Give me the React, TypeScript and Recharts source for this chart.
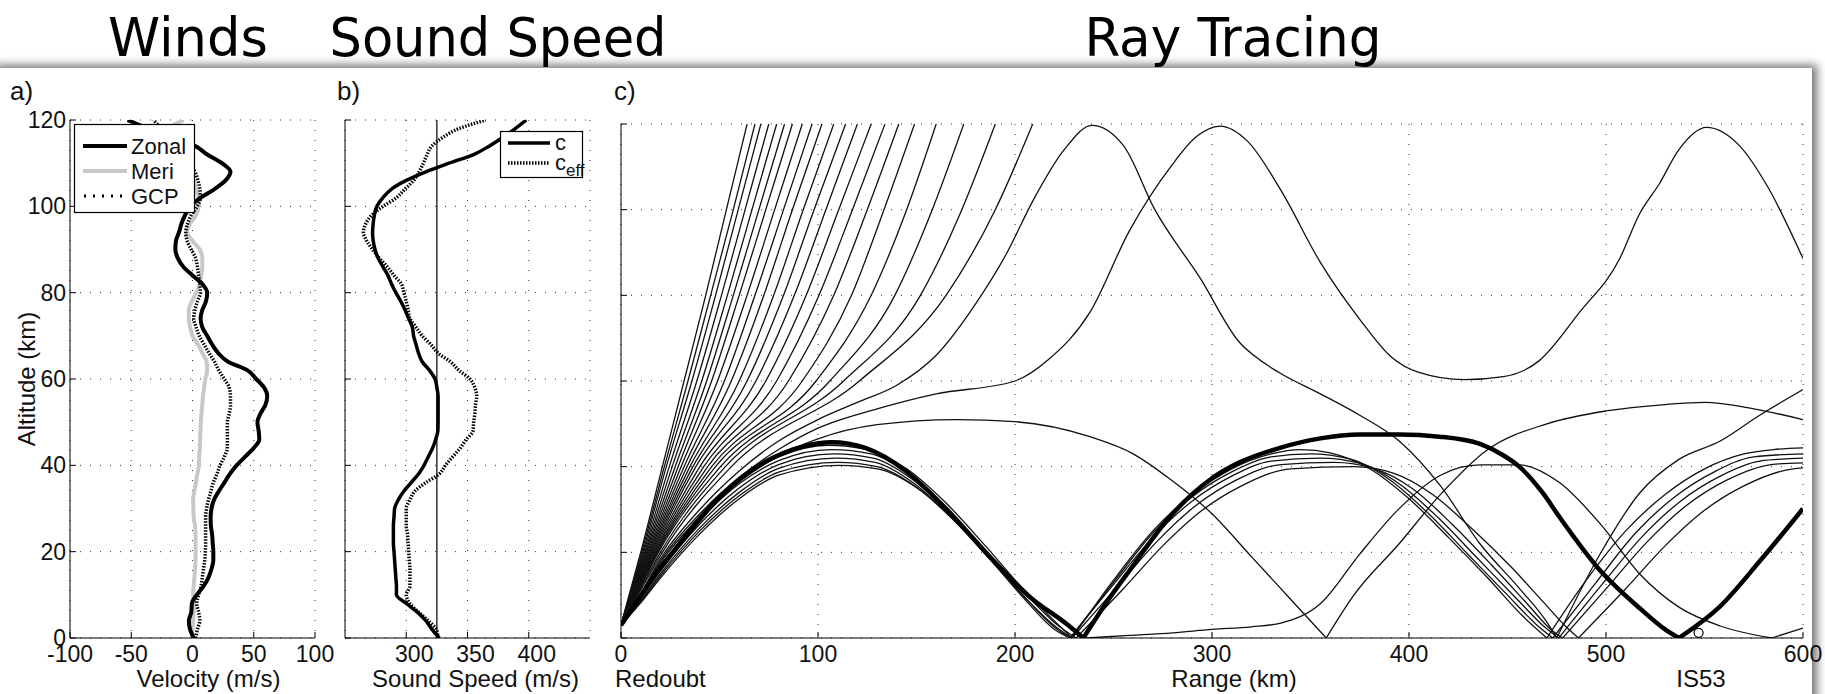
import React from 'react';
import {
  ComposedChart, Line, XAxis, YAxis, CartesianGrid, ReferenceLine, ReferenceDot,
} from 'recharts';

const FONT = "'Liberation Sans', Arial, Helvetica, sans-serif";
const TITLE_FONT = "'DejaVu Sans Condensed', 'Liberation Sans Narrow', 'DejaVu Sans', sans-serif";

// altitude grid shared by the profiles of panels a) and b)
const altitudeKm = [
  0, 2, 4, 6, 8, 10, 12, 14, 16, 18, 20, 22, 24, 26, 28, 30, 32, 34, 36, 38, 40,
  42, 44, 46, 48, 50, 52, 54, 56, 58, 60, 62, 64, 66, 68, 70, 72, 74, 76, 78, 80,
  82, 84, 86, 88, 90, 92, 94, 96, 98, 100, 102, 104, 106, 108, 110, 112, 114, 116, 118, 120,
];

// a) winds (m/s)
const zonalWind = [
  1, -2, -3, -1, -0.5, 3.5, 9, 13, 15.5, 17, 17, 16.5, 16, 15, 14.8, 15.5, 17.5, 21.5, 26, 30.5, 36,
  43, 50, 54.5, 54, 53, 55.5, 59.5, 61, 58.5, 52, 45, 29, 21, 16, 12, 8, 6.6, 8, 11, 12,
  8, 0, -7.5, -12, -14, -13.5, -11, -9, -6, -1.5, 6.6, 18, 27, 31, 24, 12, 2, -17, -36, -53,
];
const meriWind = [
  -0.3, 0, 0.5, 1, 1, 0.5, 1, 1.6, 2, 2.5, 2.5, 2.5, 2.5, 2, 1, 0.7, 0.5, 1.5, 2.7, 4, 5.2,
  5.5, 6, 6.2, 6.5, 6.8, 7.3, 8, 8.5, 9.5, 10.5, 12, 11.5, 8, 4.5, 0, -2, -3, -3, -0.5, 3,
  6, 7, 8, 8, 6, 0, -4.4, -2, 3, 5, 5, 3, 1, -1, -3, -6, -10, -15, -18, -7,
];
const gcpWind = [
  2.5, 4, 6, 5, 3.5, 5, 7, 8, 9, 10, 10.5, 10.7, 10.7, 10.7, 10.7, 11.5, 13, 15, 17, 20, 22.5,
  26, 28.4, 28.5, 28.4, 28.5, 30, 31, 31, 30, 26, 21.5, 18, 13.5, 9.5, 5.5, 3, 1, 2, 4, 6.5,
  6, 5, 4, 2.5, -1, -4.4, -5.5, -4, -1, 3.8, 6.5, 6, 4.5, 2, -2, -7, -12, -18, -25, -32,
];

// b) sound speed (m/s)
const soundSpeed = [
  327, 321, 316, 309, 300, 292, 292, 291.5, 291, 290.5, 290, 289.5, 289.5, 289.5, 290, 290.5, 293.5, 298, 304, 310, 314.5,
  318, 321.5, 324, 325.8, 326, 326, 326, 326, 325, 323.5, 319, 313, 310, 308, 306, 305, 302, 299, 295.5, 291.5,
  288, 285, 281, 277, 274.5, 273, 272.5, 273, 274, 276, 281, 288, 300, 316, 335, 355, 368, 379, 389, 398,
];
const effSoundSpeed = [
  326, 324.5, 318, 310, 303, 300, 303, 303, 303, 302.5, 302, 301.5, 301, 300, 300, 300, 303, 307, 316, 327, 332,
  338, 344, 349, 354.5, 355, 356, 356.5, 357.5, 356, 352, 343, 336, 326, 320, 313, 308, 303, 301.5, 300, 298,
  296, 290, 284.5, 278, 272.5, 267.7, 265, 267, 272, 281, 292, 299, 306, 310.5, 314, 317, 321, 330, 343, 365,
];
const groundSoundSpeed = 325;

// c) ray paths, [range km, altitude km]
// escaping rays: range at each of these altitudes
const escapeAltitudes = [3, 10, 20, 40, 60, 80, 100, 120];
const escapeRanges = [
  [0, 4.1, 10, 21, 32, 43, 53.5, 64],
  [0, 4.3, 10.5, 22, 34, 45.5, 57, 68],
  [0, 4.5, 11, 23, 36, 48, 59.5, 71],
  [0, 4.7, 11.5, 24.5, 38.5, 51, 63, 75],
  [0, 4.9, 12, 26, 41, 54, 66.5, 79],
  [0, 5.1, 12.5, 27.5, 43.5, 57, 70, 83],
  [0, 5.3, 13, 29, 46, 60, 73.5, 87],
  [0, 5.5, 13.5, 30.5, 49, 64, 78, 92],
  [0, 5.7, 14, 32, 52.5, 68, 82.5, 97],
  [0, 5.9, 14.5, 33.5, 56, 72.5, 87, 102],
  [0, 6.2, 15, 35, 60, 77.5, 92.5, 108],
  [0, 6.4, 15.5, 36.5, 64, 82.5, 98, 114],
  [0, 6.6, 16, 38, 68.5, 88, 104, 120],
  [0, 6.8, 16.5, 40, 73.5, 94, 110.5, 127],
  [0, 7.0, 17, 42, 79, 100.5, 117.5, 134],
  [0, 7.2, 17.5, 44, 85, 108, 125, 141],
  [0, 7.4, 18, 46, 92, 117, 133.5, 149],
  [0, 7.6, 18.5, 48, 99, 127, 145, 160],
  [0, 7.8, 19, 50.5, 106, 139, 158, 174],
  [0, 8.2, 20, 53, 113, 152, 173, 190],
  [0, 8.6, 21, 56, 121, 165, 190, 209],
];

// thermospheric / stratospheric returns, each list is one hop
const thinHops = [
  [[0, 3], [8, 8.7], [20, 18.5], [40, 30], [60, 39], [80, 46], [100, 51], [120, 55], [140, 59], [160, 66], [180, 78], [196, 90], [209, 102], [225, 114], [239, 119.7], [255, 115], [271, 100], [294, 84], [314, 69], [324, 65], [334, 62], [355, 57], [375, 52], [395, 46], [416, 35.5], [436, 22], [456, 11.6], [470, 3.7], [475, 0]],
  [[475, 0], [497, 19.6], [517, 33.8], [537, 41.7], [558, 46], [578, 52], [600, 58]],
  [[0, 3], [8, 8.6], [20, 18], [40, 29], [60, 37.5], [80, 44], [100, 49], [130, 53.5], [160, 57], [200, 60], [217, 65], [238, 76], [258, 95], [279, 110], [292, 117], [304, 119.5], [318, 116], [335, 104.5], [355, 87.7], [375, 74.4], [391, 65.6], [405, 62], [428, 60.3], [448, 61], [466, 64.7], [486.5, 76], [507, 88.6], [517, 99], [527, 106], [537, 114], [551, 119.2], [567.6, 115], [582, 105.4], [600, 88.6]],
  [[0, 3], [8, 8.5], [20, 17.5], [40, 28.3], [60, 36.5], [80, 42.5], [100, 46.5], [130, 49.8], [170, 51], [200, 50.5], [238, 47], [260, 43], [279, 37], [300, 29], [320, 19], [340, 9], [358, 0]],
  [[358, 0], [372, 10], [395, 22], [415, 33], [440, 44], [470, 50], [500, 53], [530, 54.5], [550, 55], [575, 53.5], [600, 51]],
  [[0, 3], [10, 9.8], [20, 16.5], [40, 28.5], [60, 37], [80, 42.3], [105, 45], [125, 44], [145, 39.5], [165, 31.5], [185, 21.5], [205, 11], [220, 4], [229, 0]],
  [[229, 0], [250, 13.5], [270, 25], [290, 33.5], [310, 39.5], [330, 43], [345, 44], [360, 43.2], [380, 39.5], [400, 32.5], [420, 23.5], [440, 14], [458, 5], [470, 0]],
  [[470, 0], [490, 13.5], [510, 25], [530, 33.5], [550, 39.5], [570, 43], [585, 44], [600, 44.4]],
  [[0, 3], [10, 9.5], [20, 16.2], [40, 27.5], [60, 36], [80, 41.4], [107, 44], [127, 43], [147, 38], [167, 29.5], [187, 19], [205, 9.5], [220, 2.5], [228, 0]],
  [[228, 0], [250, 13], [270, 24.5], [290, 33], [310, 38.8], [330, 42.3], [350, 43], [370, 41.8], [390, 37], [410, 29], [430, 19.5], [450, 10], [465, 3], [473, 0]],
  [[473, 0], [495, 13], [515, 24.5], [535, 33], [555, 38.8], [575, 42.3], [600, 43]],
  [[0, 3], [10, 9.2], [20, 15.6], [40, 26.6], [60, 35], [80, 40.5], [108, 43], [128, 42], [148, 37], [168, 28.5], [188, 18], [206, 8.5], [220, 2], [228, 0]],
  [[228, 0], [250, 12.5], [270, 23.5], [290, 32], [310, 37.8], [330, 41.3], [355, 42], [375, 40.8], [395, 36], [415, 28], [435, 18.5], [455, 9], [469, 2.5], [476, 0]],
  [[476, 0], [498, 12.5], [518, 23.5], [538, 32], [558, 37.8], [578, 41.3], [600, 42]],
  [[0, 3], [10, 8.8], [20, 15], [40, 25.7], [60, 34], [80, 39.6], [109, 42], [129, 41], [149, 36], [169, 27.5], [189, 17.5], [207, 8.5], [221, 2.5], [229, 0]],
  [[229, 0], [252, 12], [272, 22.5], [292, 31], [312, 36.8], [335, 40.5], [362, 41], [382, 39.6], [402, 34.8], [422, 26.5], [442, 17], [460, 8], [472, 2], [478, 0]],
  [[478, 0], [501, 12], [521, 22.5], [541, 31], [561, 36.8], [584, 40.5], [600, 40.9]],
  [[0, 3], [10, 8.5], [20, 14.5], [40, 25], [60, 33.2], [80, 38.7], [110, 41], [130, 40], [150, 35.2], [170, 27], [190, 17.5], [208, 9], [223, 2.5], [231, 0]],
  [[231, 0], [255, 11.5], [275, 21.5], [295, 29.8], [315, 35.5], [340, 39.5], [372, 40], [392, 38.5], [412, 33.5], [432, 25.5], [452, 16.5], [468, 8.5], [480, 2.5], [486, 0]],
  [[486, 0], [510, 11.5], [530, 21.5], [550, 29.8], [570, 35.5], [595, 39.5], [600, 39.7]],
  [[0, 3], [10, 8.2], [20, 14], [40, 24.3], [60, 32.5], [80, 38], [111, 40.3], [131, 39.4], [151, 34.8], [171, 27], [191, 17.5], [210, 9], [226, 3], [236, 0]],
  [[236, 0], [258, 0.6], [280, 1.2], [300, 2], [320, 2.6], [335, 3.5], [355, 8], [375, 19.6], [395, 30.2], [416, 38], [436, 40.4], [456, 40.4], [476, 36.4], [497, 26.7], [517, 15], [537, 7.2], [558, 2.8], [584, 0]],
  [[584, 0], [600, 2.3]],
];

// the highlighted ray to IS53
const boldHops = [
  [[0, 3], [8, 8.4], [16, 14], [30.7, 22.5], [51.4, 33.5], [72, 40.8], [93, 44.8], [107, 45.7], [124, 44.4], [144.6, 39], [165, 30.2], [186, 19.6], [206.7, 9.9], [227.5, 2.8], [234.7, 0]],
  [[234.7, 0], [246, 8], [258.5, 16], [279, 28.5], [300, 37.3], [314, 41], [334.5, 44.4], [355, 46.6], [375, 47.5], [395, 47.5], [415.5, 47], [436, 45.3], [448, 42.6], [456, 40], [468, 33.8], [476, 28.5], [496.6, 16], [517, 7], [530, 2], [537, 0]],
  [[537, 0], [557.5, 7.2], [578, 17.9], [600, 30.2]],
];

const stationRangeKm = 547;

const altTicks = [0, 20, 40, 60, 80, 100, 120];
const windTicks = [-100, -50, 0, 50, 100];
const speedTicks = [300, 350, 400];
const rangeTicks = [0, 100, 200, 300, 400, 500, 600];

const profile = (xs: number[]) => xs.map((x, i) => ({ x, y: altitudeKm[i] }));
const path = (p: number[][]) => p.map(([x, y]) => ({ x, y }));
const escapePaths = escapeRanges.map(r => r.map((x, i) => ({ x, y: escapeAltitudes[i] })));

const tickStyle = { fontSize: 23, fill: '#111', fontFamily: FONT };
const axisTitle = { fontSize: 24, fill: '#111', fontFamily: FONT };
const black = { stroke: '#000' };

// matlab-style box: ticks on the top and right edges too
function boxAxes(xDomain: number[], xTicks: number[]) {
  return [
    <XAxis key="xt" xAxisId="top" orientation="top" type="number" domain={xDomain} ticks={xTicks}
      allowDataOverflow height={0} tick={false} tickSize={-6} axisLine={black} tickLine={black} />,
    <YAxis key="yr" yAxisId="right" orientation="right" type="number" domain={[0, 120]} ticks={altTicks}
      allowDataOverflow width={0} tick={false} tickSize={-6} axisLine={black} tickLine={black} />,
  ];
}

function WindsPanel() {
  return (
    <ComposedChart width={345} height={694} margin={{ top: 120, right: 30, bottom: 0, left: 0 }}>
      <CartesianGrid stroke="#333" strokeDasharray="1 9" />
      <XAxis dataKey="x" type="number" domain={[-100, 100]} ticks={windTicks} allowDataOverflow
        height={56} tickSize={-6} tickMargin={14} tick={tickStyle} axisLine={black} tickLine={black}
        label={{ value: 'Velocity (m/s)', position: 'insideBottom', offset: 7, dx: 16, style: axisTitle }} />
      <YAxis type="number" domain={[0, 120]} ticks={altTicks} allowDataOverflow width={70}
        tickSize={-6} tickMargin={10} tick={tickStyle} axisLine={black} tickLine={black} />
      {boxAxes([-100, 100], windTicks)}
      <Line data={profile(meriWind)} dataKey="y" type="monotoneY" stroke="#c8c8c8" strokeWidth={4} dot={false} isAnimationActive={false} />
      <Line data={profile(gcpWind)} dataKey="y" type="monotoneY" stroke="#000" strokeWidth={3.5} strokeDasharray="1.5 1.5" dot={false} isAnimationActive={false} />
      <Line data={profile(zonalWind)} dataKey="y" type="monotoneY" stroke="#000" strokeWidth={4} dot={false} isAnimationActive={false} />
    </ComposedChart>
  );
}

function SoundPanel() {
  return (
    <ComposedChart width={300} height={694} margin={{ top: 120, right: 40, bottom: 0, left: 0 }}>
      <CartesianGrid stroke="#333" strokeDasharray="1 9" />
      <XAxis dataKey="x" type="number" domain={[250, 450]} ticks={speedTicks} allowDataOverflow
        height={56} tickSize={-6} tickMargin={14} tick={{ ...tickStyle, dx: 8 }} axisLine={black} tickLine={black}
        label={{ value: 'Sound Speed (m/s)', position: 'insideBottom', offset: 7, dx: 8, style: axisTitle }} />
      <YAxis type="number" domain={[0, 120]} ticks={altTicks} allowDataOverflow width={15}
        tickSize={-6} tickFormatter={() => ''} axisLine={black} tickLine={black} />
      {boxAxes([250, 450], speedTicks)}
      <ReferenceLine x={groundSoundSpeed} stroke="#000" strokeWidth={1.2} />
      <Line data={profile(effSoundSpeed)} dataKey="y" type="monotoneY" stroke="#000" strokeWidth={3.5} strokeDasharray="1.5 1.5" dot={false} isAnimationActive={false} />
      <Line data={profile(soundSpeed)} dataKey="y" type="monotoneY" stroke="#000" strokeWidth={3.5} dot={false} isAnimationActive={false} />
    </ComposedChart>
  );
}

function RayPanel() {
  return (
    <ComposedChart width={1225} height={694} margin={{ top: 124, right: 22, bottom: 0, left: 0 }}>
      <CartesianGrid stroke="#333" strokeDasharray="1 9" />
      <XAxis dataKey="x" type="number" domain={[0, 600]} ticks={rangeTicks} allowDataOverflow
        height={56} tickSize={-6} tickMargin={14} tick={tickStyle} axisLine={black} tickLine={black}
        label={{ value: 'Range (km)', position: 'insideBottom', offset: 7, dx: 22, style: axisTitle }} />
      <YAxis type="number" domain={[0, 120]} ticks={altTicks} allowDataOverflow width={21}
        tickSize={-6} tickFormatter={() => ''} axisLine={black} tickLine={black} />
      {boxAxes([0, 600], rangeTicks)}
      {escapePaths.map((p, i) => (
        <Line key={'e' + i} data={p} dataKey="y" type="monotone" stroke="#111" strokeWidth={1.3} dot={false} isAnimationActive={false} />
      ))}
      {thinHops.map((p, i) => (
        <Line key={'t' + i} data={path(p)} dataKey="y" type="monotone" stroke="#111" strokeWidth={1.3} dot={false} isAnimationActive={false} />
      ))}
      {boldHops.map((p, i) => (
        <Line key={'b' + i} data={path(p)} dataKey="y" type="monotone" stroke="#000" strokeWidth={4.5} dot={false} isAnimationActive={false} />
      ))}
      <ReferenceDot x={stationRangeKm} y={1.2} r={4.5} fill="#fff" stroke="#000" strokeWidth={1.2} />
    </ComposedChart>
  );
}

const abs = (left: number, top: number): React.CSSProperties => ({ position: 'absolute', left, top });

export default function App() {
  return (
    <div style={{ position: 'absolute', left: 0, top: 0, width: 1825, height: 694, background: '#fff', overflow: 'hidden' }}>
      <div style={{ position: 'absolute', left: -10, top: 68, width: 1822, height: 640, background: '#fff', boxShadow: '5px -3px 9px rgba(0,0,0,0.55)' }} />
      <div style={abs(0, 0)}><WindsPanel /></div>
      <div style={abs(330, 0)}><SoundPanel /></div>
      <div style={abs(600, 0)}><RayPanel /></div>
      <svg width={1825} height={694} style={{ position: 'absolute', left: 0, top: 0, pointerEvents: 'none' }}>
        <g fontFamily={TITLE_FONT} fontSize={54} fill="#000" textAnchor="middle">
          <text x={188} y={56} textLength={160} lengthAdjust="spacingAndGlyphs">Winds</text>
          <text x={498} y={56} textLength={337} lengthAdjust="spacingAndGlyphs">Sound Speed</text>
          <text x={1233} y={56} textLength={297} lengthAdjust="spacingAndGlyphs">Ray Tracing</text>
        </g>
        <g fontFamily={FONT} fontSize={26} fill="#111">
          <text x={10} y={100}>a)</text>
          <text x={337} y={100}>b)</text>
          <text x={614} y={100}>c)</text>
        </g>
        <text x={26} y={379} fontFamily={FONT} fontSize={24} fill="#111" textAnchor="middle"
          dominantBaseline="central" transform="rotate(-90 26 379)">Altitude (km)</text>
        <g fontFamily={FONT} fontSize={24} fill="#111">
          <text x={615} y={687}>Redoubt</text>
          <text x={1701} y={687} textAnchor="middle">IS53</text>
        </g>
        <g fontFamily={FONT} fontSize={22} fill="#111">
          <rect x={74.5} y={124.5} width={120} height={88} fill="#fff" stroke="#000" strokeWidth={1.2} />
          <line x1={83} y1={146} x2={127} y2={146} stroke="#000" strokeWidth={4} />
          <line x1={83} y1={171} x2={127} y2={171} stroke="#c8c8c8" strokeWidth={4} />
          <line x1={84} y1={196} x2={127} y2={196} stroke="#000" strokeWidth={3} strokeDasharray="2 7" />
          <text x={131} y={154}>Zonal</text>
          <text x={131} y={179}>Meri</text>
          <text x={131} y={204}>GCP</text>
          <rect x={500.5} y={131.5} width={82} height={46} fill="#fff" stroke="#000" strokeWidth={1.2} />
          <line x1={508} y1={143} x2={550} y2={143} stroke="#000" strokeWidth={3.5} />
          <line x1={508} y1={163} x2={550} y2={163} stroke="#000" strokeWidth={3.5} strokeDasharray="1.5 1.5" />
          <text x={555} y={150}>c</text>
          <text x={555} y={170}>c<tspan dy={6} fontSize={17}>eff</tspan></text>
        </g>
      </svg>
    </div>
  );
}
